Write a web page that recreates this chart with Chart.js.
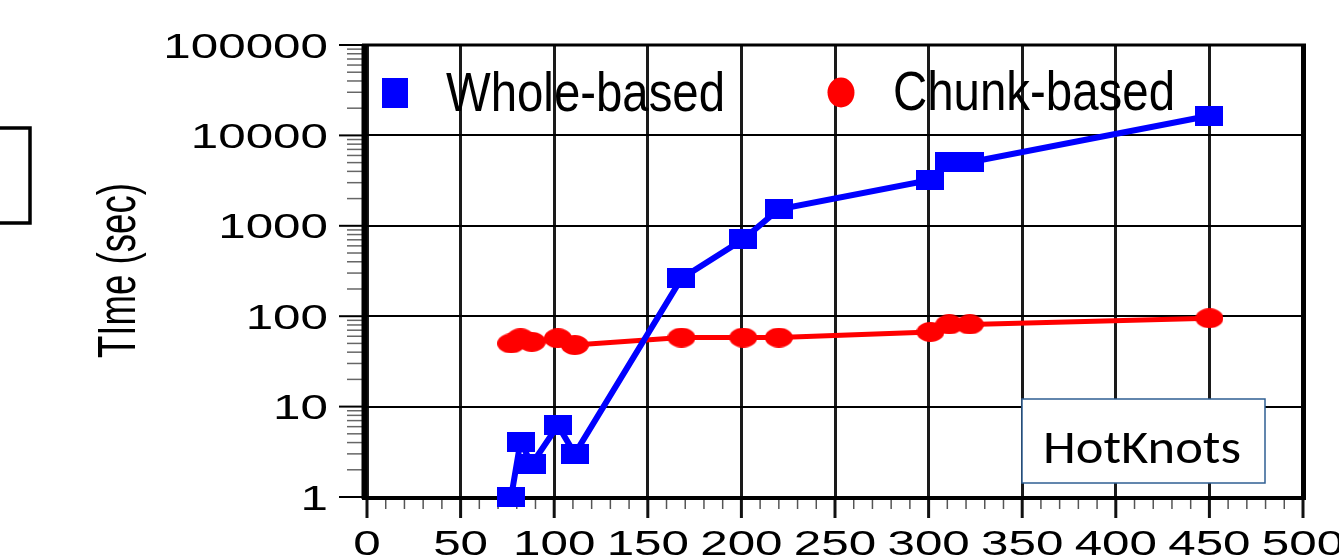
<!DOCTYPE html>
<html>
<head>
<meta charset="utf-8">
<script src="https://cdn.jsdelivr.net/npm/chart.js@4"></script>
<style>
  html, body { margin: 0; padding: 0; background: #fff; }
  #wrap { width: 1339px; height: 555px; position: relative; }
</style>
</head>
<body>
<div id="wrap"><canvas id="chart"></canvas></div>
<script>
// --- data ---
const sizes = [77, 82, 88, 102, 111, 168, 201, 220, 301, 311, 322, 450];
const wholeTimes = [1, 4.1, 2.3, 6.2, 3.0, 262, 709, 1523, 3210, 5120, 5040, 16500];
const chunkTimes = [50, 57, 52, 57, 48, 58, 58, 58, 67, 81, 81, 95];

const xTicks = [0, 50, 100, 150, 200, 250, 300, 350, 400, 450, 500];
const yTicks = [1, 10, 100, 1000, 10000, 100000];
const yTickLabels = ['1', '10', '100', '1000', '10000', '100000'];

const BLUE = '#0000ff';
const RED = '#ff0000';
const FONT = '"Liberation Sans", Arial, sans-serif';

// marker images (the original markers are stretched: 28 wide x 20 tall)
function makeMarker(shape, color, w, h) {
  const c = document.createElement('canvas');
  c.width = w; c.height = h;
  const g = c.getContext('2d');
  g.fillStyle = color;
  if (shape === 'rect') {
    g.fillRect(0, 0, w, h);
  } else {
    g.beginPath();
    g.ellipse(w / 2, h / 2, w / 2, h / 2, 0, 0, Math.PI * 2);
    g.fill();
  }
  return c;
}

function drawText(ctx, text, x, y, font, sx, align) {
  ctx.save();
  ctx.font = font;
  ctx.translate(x, y);
  ctx.scale(sx, 1);
  ctx.textAlign = align;
  ctx.textBaseline = 'alphabetic';
  ctx.fillStyle = '#000';
  ctx.fillText(text, 0, 0);
  ctx.restore();
}

// squeeze / stretch text to a measured width
function fitText(ctx, text, x, y, font, width, align) {
  ctx.save();
  ctx.font = font;
  const sx = width / ctx.measureText(text).width;
  ctx.restore();
  drawText(ctx, text, x, y, font, sx, align);
}

function line(ctx, x1, y1, x2, y2, w, color) {
  ctx.beginPath();
  ctx.moveTo(x1, y1);
  ctx.lineTo(x2, y2);
  ctx.lineWidth = w;
  ctx.strokeStyle = color;
  ctx.stroke();
}

const frame = {
  id: 'frame',
  beforeDatasetsDraw(chart) {
    const { ctx, chartArea: a, scales } = chart;
    const xs = scales.x, ys = scales.y;
    ctx.save();

    // y minor + major tick marks
    yTicks.forEach((v, i) => {
      const y = ys.getPixelForValue(v);
      line(ctx, 339, y, a.left, y, 2, '#000');
      if (i < yTicks.length - 1) {
        for (let m = 2; m <= 9; m++) {
          const ym = ys.getPixelForValue(v * m);
          line(ctx, 347, ym, a.left, ym, 1.5, '#666');
        }
      }
      drawText(ctx, yTickLabels[i], 328, y + 12.5, '35px ' + FONT, 1.41, 'right');
    });

    // x minor + major tick marks
    xTicks.forEach((v, i) => {
      const x = xs.getPixelForValue(v);
      line(ctx, x, a.bottom, x, a.bottom + 21, 3, '#111');
      if (i < xTicks.length - 1) {
        for (let m = 10; m < 50; m += 10) {
          const xm = xs.getPixelForValue(v + m);
          line(ctx, xm, a.bottom, xm, a.bottom + 12, 1.5, '#555');
        }
      }
      drawText(ctx, String(v), x, 555, '35px ' + FONT, 1.41, 'center');
    });

    // frame
    line(ctx, a.left - 2.5, a.top - 1, a.left - 2.5, a.bottom + 2, 6, '#000');
    line(ctx, a.left - 5, a.bottom + 1, a.right + 2, a.bottom + 1, 4, '#000');
    line(ctx, a.right + 0.5, a.top - 1, a.right + 0.5, a.bottom + 3, 5, '#000');
    line(ctx, a.left - 5, a.top, a.right + 3, a.top, 3, '#000');

    // y axis title
    ctx.save();
    ctx.translate(135, 270.5);
    ctx.rotate(-Math.PI / 2);
    fitText(ctx, 'TIme (sec)', 0, 0, '53px ' + FONT, 175, 'center');
    ctx.restore();

    // fragment of a neighbouring box at the left edge
    ctx.beginPath();
    ctx.moveTo(0, 128);
    ctx.lineTo(30, 128);
    ctx.lineTo(30, 223);
    ctx.lineTo(0, 223);
    ctx.lineWidth = 3.5;
    ctx.strokeStyle = '#000';
    ctx.stroke();

    ctx.restore();
  },
  afterDatasetsDraw(chart) {
    const { ctx } = chart;
    ctx.save();

    // legend
    ctx.fillStyle = BLUE;
    ctx.fillRect(382, 78, 26, 30);
    fitText(ctx, 'Whole-based', 446, 111, '56px ' + FONT, 279, 'left');
    ctx.fillStyle = RED;
    ctx.beginPath();
    ctx.ellipse(841, 92.5, 13.5, 15, 0, 0, Math.PI * 2);
    ctx.fill();
    fitText(ctx, 'Chunk-based', 893, 110, '56px ' + FONT, 282, 'left');

    // HotKnots label box
    ctx.fillStyle = '#fff';
    ctx.fillRect(1022, 399, 243, 84);
    ctx.lineWidth = 1.5;
    ctx.strokeStyle = '#2f5f93';
    ctx.strokeRect(1022, 399, 243, 84);
    fitText(ctx, 'HotKnots', 1043, 463, '48px Carlito, Lato, sans-serif', 198, 'left');

    ctx.restore();
  }
};

new Chart(document.getElementById('chart'), {
  type: 'line',
  data: {
    datasets: [
      {
        label: 'Whole-based',
        data: sizes.map((s, i) => ({ x: s, y: wholeTimes[i] })),
        borderColor: BLUE,
        backgroundColor: BLUE,
        borderWidth: 6,
        pointStyle: makeMarker('rect', BLUE, 28, 20),
        tension: 0,
        clip: false
      },
      {
        label: 'Chunk-based',
        data: sizes.map((s, i) => ({ x: s, y: chunkTimes[i] })),
        borderColor: RED,
        backgroundColor: RED,
        borderWidth: 5,
        pointStyle: makeMarker('ellipse', RED, 28, 20),
        tension: 0,
        clip: false
      }
    ]
  },
  options: {
    responsive: true,
    maintainAspectRatio: false,
    animation: false,
    events: [],
    layout: { padding: { left: 367, top: 45, right: 36, bottom: 58 } },
    plugins: { legend: { display: false }, tooltip: { enabled: false } },
    scales: {
      x: {
        type: 'linear',
        min: 0,
        max: 500,
        afterBuildTicks: s => { s.ticks = xTicks.map(v => ({ value: v })); },
        ticks: { display: false },
        border: { display: false },
        grid: { color: '#1a1a1a', lineWidth: 3, drawTicks: false }
      },
      y: {
        type: 'logarithmic',
        min: 1,
        max: 100000,
        afterBuildTicks: s => { s.ticks = yTicks.map(v => ({ value: v })); },
        ticks: { display: false },
        border: { display: false },
        grid: { color: '#000', lineWidth: 2, drawTicks: false }
      }
    }
  },
  plugins: [frame]
});
</script>
</body>
</html>
